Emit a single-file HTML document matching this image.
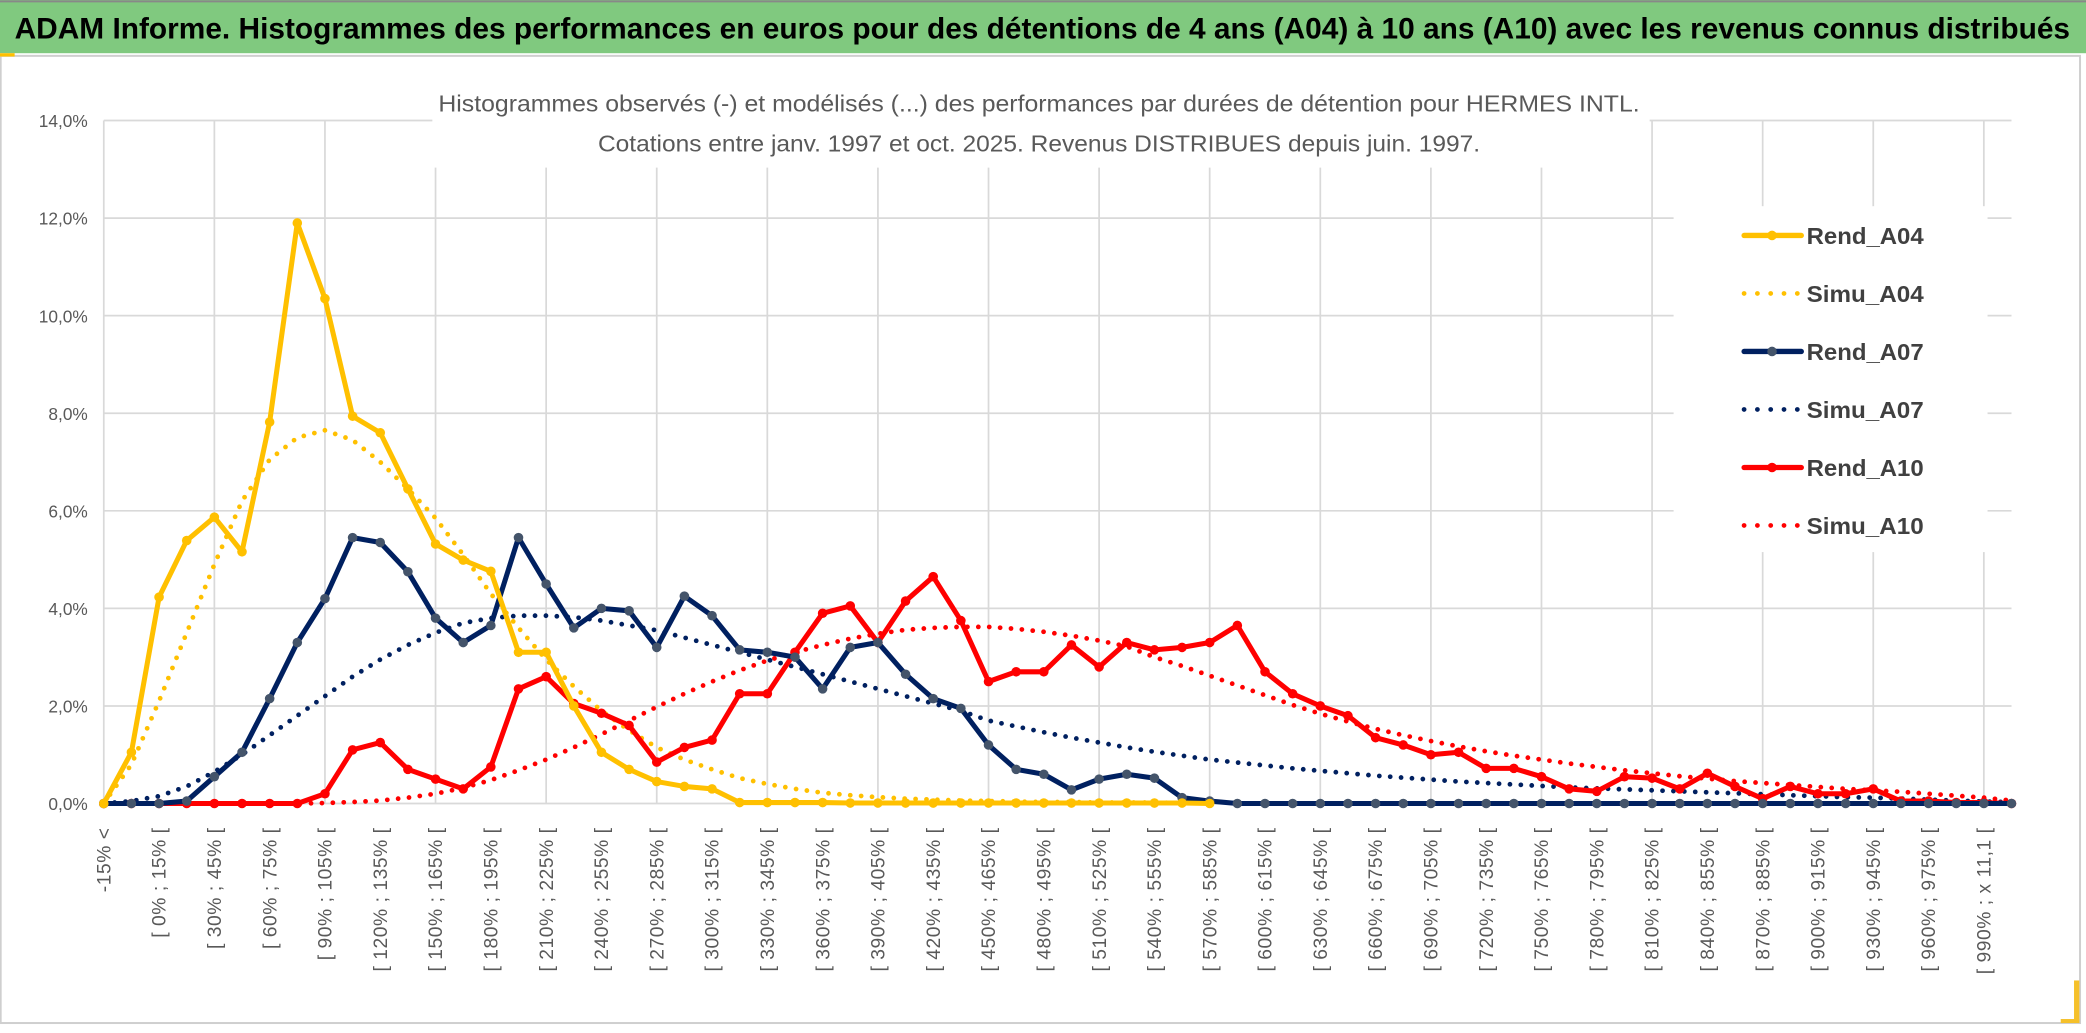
<!DOCTYPE html>
<html><head><meta charset="utf-8"><style>
html,body{margin:0;padding:0;background:#fff;}
svg{display:block;}
text{font-family:"Liberation Sans",sans-serif;}
</style></head><body>
<svg id="chart" width="2086" height="1033" viewBox="0 0 1568 776.5" preserveAspectRatio="none" xmlns="http://www.w3.org/2000/svg">
<rect x="0" y="0" width="1568" height="776.5" fill="#fff"/>
<rect x="0" y="0" width="1568" height="40" fill="#80c97f"/>
<line x1="0" y1="1" x2="1568" y2="1" stroke="#888" stroke-width="1.5"/>
<text x="11" y="29" font-size="22" font-weight="bold" fill="#000" textLength="1545" lengthAdjust="spacingAndGlyphs">ADAM Informe. Histogrammes des performances en euros pour des détentions de 4 ans (A04) à 10 ans (A10) avec les revenus connus distribués</text>
<rect x="0.5" y="42" width="1563" height="727" fill="none" stroke="#cfcfcf" stroke-width="1.5"/>
<rect x="0" y="40" width="11" height="2.5" fill="#ffc000"/>
<rect x="1559" y="737" width="4" height="32" fill="#f5c02a"/>
<rect x="1549" y="766" width="14" height="3" fill="#f5c02a"/>
<g id="grid"></g>
<g id="yaxis"></g>
<g id="xaxis"></g>
<rect x="325" y="60" width="915" height="66" fill="#fff"/>
<text x="781" y="84" font-size="17.5" fill="#595959" text-anchor="middle" textLength="903" lengthAdjust="spacingAndGlyphs">Histogrammes observés (-) et modélisés (...) des performances par durées de détention pour HERMES INTL.</text>
<text x="781" y="114" font-size="17.5" fill="#595959" text-anchor="middle" textLength="663" lengthAdjust="spacingAndGlyphs">Cotations entre janv. 1997 et oct. 2025. Revenus DISTRIBUES depuis juin. 1997.</text>
<rect x="1258" y="155" width="236" height="260" fill="#fff"/>
<g id="series"></g>
<g id="legend"></g>
</svg>
<script>
const categories = (function(){ const c=["-15% <","[ -15% ; 0% ["]; for(let k=0;k<66;k++){c.push("[ "+(k*15)+"% ; "+((k+1)*15)+"% [");} c.push("[ 990% ; x 11,1 ["); c.push("x 11,1 <"); return c; })();
const yTicks = [0,2,4,6,8,10,12,14];
const yTickLabels = ["0,0%","2,0%","4,0%","6,0%","8,0%","10,0%","12,0%","14,0%"];
const rendA04 = [0,1.05,4.23,5.39,5.87,5.16,7.82,11.9,10.35,7.94,7.6,6.45,5.32,4.99,4.76,3.1,3.1,2.0,1.05,0.7,0.45,0.35,0.3,0.02,0.02,0.02,0.02,0.01,0.01,0.01,0.01,0.01,0.01,0.01,0.01,0.01,0.01,0.01,0.01,0.01,0.0];
const simuA04 = [0,0.8,2.1,3.5,4.9,6.2,7.05,7.5,7.65,7.45,7.0,6.45,5.85,5.1,4.3,3.6,2.95,2.4,1.9,1.5,1.15,0.9,0.7,0.52,0.4,0.3,0.22,0.17,0.13,0.1,0.08,0.06,0.05,0.04,0.03,0.03,0.02,0.02,0.02,0.01,0.01];
const rendA07 = [0,0,0,0.05,0.55,1.05,2.15,3.3,4.2,5.45,5.35,4.75,3.8,3.3,3.65,5.45,4.5,3.6,4.0,3.95,3.2,4.25,3.85,3.15,3.1,3.0,2.35,3.2,3.3,2.65,2.15,1.95,1.2,0.7,0.6,0.28,0.5,0.6,0.52,0.12,0.05,0,0,0,0,0,0,0,0,0,0,0,0,0,0,0,0,0,0,0,0,0,0,0,0,0,0,0,0,0];
const simuA07 = [0,0.05,0.15,0.35,0.65,1.0,1.4,1.8,2.2,2.6,2.95,3.25,3.5,3.7,3.8,3.85,3.85,3.82,3.75,3.65,3.55,3.4,3.25,3.1,2.95,2.8,2.65,2.5,2.35,2.2,2.05,1.9,1.7,1.58,1.46,1.35,1.25,1.15,1.06,0.98,0.9,0.84,0.78,0.72,0.67,0.62,0.57,0.53,0.49,0.45,0.42,0.39,0.36,0.33,0.31,0.29,0.27,0.25,0.23,0.21,0.19,0.17,0.15,0.13,0.12,0.1,0.08,0.06,0.04,0.03];
const rendA10 = [0,0,0,0,0,0,0,0,0.2,1.1,1.25,0.7,0.5,0.3,0.75,2.35,2.6,2.05,1.85,1.6,0.85,1.15,1.3,2.25,2.25,3.1,3.9,4.05,3.3,4.15,4.65,3.75,2.5,2.7,2.7,3.25,2.8,3.3,3.15,3.2,3.3,3.65,2.7,2.25,2.0,1.8,1.35,1.2,1.0,1.05,0.72,0.72,0.55,0.3,0.25,0.55,0.52,0.3,0.62,0.35,0.1,0.35,0.2,0.2,0.3,0.05,0.05,0.02,0.02,0];
const simuA10 = [0,0,0,0,0,0,0,0,0.01,0.03,0.06,0.12,0.2,0.32,0.48,0.68,0.9,1.15,1.42,1.7,1.98,2.25,2.5,2.73,2.93,3.1,3.25,3.38,3.48,3.56,3.6,3.62,3.62,3.58,3.52,3.44,3.34,3.22,3.0,2.82,2.62,2.42,2.22,2.02,1.84,1.68,1.53,1.4,1.28,1.17,1.07,0.98,0.9,0.82,0.75,0.68,0.62,0.56,0.51,0.46,0.42,0.38,0.34,0.3,0.27,0.24,0.2,0.16,0.12,0.06];

const NS="http://www.w3.org/2000/svg";
const X0=78, X1=1512, Y0=604, Y1=90.6;
function xPos(i){ return X0+(X1-X0)*i/(categories.length-1); }
function yPos(v){ return Y0-(Y0-Y1)*v/14; }
function mk(tag, attrs, parent){ const e=document.createElementNS(NS,tag); for(const k in attrs) e.setAttribute(k,attrs[k]); parent.appendChild(e); return e; }

const grid=document.getElementById('grid');
yTicks.forEach((t,i)=>{
  const l=mk('line',{x1:X0,x2:X1,y1:yPos(t),y2:yPos(t),stroke:'#d9d9d9','stroke-width':1.3},grid);
  
  
});
for(let i=0;i<categories.length;i+=4){
  const l=mk('line',{x1:xPos(i),x2:xPos(i),y1:Y1,y2:Y0,stroke:'#d9d9d9','stroke-width':1.3},grid);
  
  
}
const ya=document.getElementById('yaxis');
yTicks.forEach((t,i)=>{
  const tx=mk('text',{x:66,y:yPos(t)+5,'font-size':13,fill:'#595959','text-anchor':'end'},ya);
  tx.textContent=yTickLabels[i];
  
  
});
const xa=document.getElementById('xaxis');
for(let i=0;i<categories.length-1;i+=2){
  const x=xPos(i), y=622;
  const tx=mk('text',{x:0,y:0,'font-size':14.5,'letter-spacing':'0.4',fill:'#595959','text-anchor':'end',transform:`translate(${x+5},${y}) rotate(-90)`},xa);
  tx.textContent=categories[i];
  
  
}

const series=document.getElementById('series');
function drawSeries(vals,color,dotted,markerFill,name){
  const pts=vals.map((v,i)=>xPos(i)+','+yPos(v)).join(' ');
  const g=mk('g',{},series);
  
  
  const attrs={points:pts,fill:'none',stroke:color,'stroke-linejoin':'round','stroke-linecap':'round'};
  if(dotted){ attrs['stroke-width']=3.6; attrs['stroke-dasharray']='0 8.2'; }
  else { attrs['stroke-width']=3.8; }
  const pl=mk('polyline',attrs,g);
  
  
  if(!dotted){
    vals.forEach((v,i)=>{
      const c=mk('circle',{cx:xPos(i),cy:yPos(v),r:3.6,fill:markerFill},g);
      
      
    });
  }
}
drawSeries(simuA10,'#ff0000',true,null,'simu-a10');
drawSeries(simuA07,'#002060',true,null,'simu-a07');
drawSeries(simuA04,'#ffc000',true,null,'simu-a04');
drawSeries(rendA10,'#ff0000',false,'#ff0000','rend-a10');
drawSeries(rendA07,'#002060',false,'#44546a','rend-a07');
drawSeries(rendA04,'#ffc000',false,'#ffc000','rend-a04');

const legendNames=["Rend_A04","Simu_A04","Rend_A07","Simu_A07","Rend_A10","Simu_A10"];
const legendColors=['#ffc000','#ffc000','#002060','#002060','#ff0000','#ff0000'];
const legendMarker=['#ffc000',null,'#44546a',null,'#ff0000',null];
const lg=document.getElementById('legend');
legendNames.forEach((n,i)=>{
  const y=177+i*43.6;
  const g=mk('g',{},lg);
  
  
  if(legendMarker[i]){
    mk('line',{x1:1311,x2:1354,y1:y,y2:y,stroke:legendColors[i],'stroke-width':4,'stroke-linecap':'round'},g);
    mk('circle',{cx:1332,cy:y,r:3.6,fill:legendMarker[i]},g);
  } else {
    mk('line',{x1:1311,x2:1354,y1:y,y2:y,stroke:legendColors[i],'stroke-width':3.6,'stroke-linecap':'round','stroke-dasharray':'0 10'},g);
  }
  const t=mk('text',{x:1358,y:y+6.5,'font-size':17.5,fill:'#404040','font-weight':'bold',textLength:88,lengthAdjust:'spacingAndGlyphs'},g);
  t.textContent=n;
});
</script>
</body></html>
